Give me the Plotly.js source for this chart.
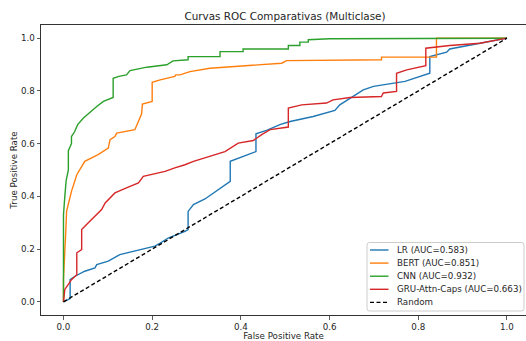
<!DOCTYPE html>
<html>
<head>
<meta charset="utf-8">
<script src="https://cdn.plot.ly/plotly-3.0.1.min.js"></script>
<style>html,body{margin:0;padding:0;background:#fff;}#chart{width:526px;height:341px;}</style>
</head>
<body>
<div id="chart"></div>
<script>
const labels = ["LR (AUC=0.583)", "BERT (AUC=0.851)", "CNN (AUC=0.932)", "GRU-Attn-Caps (AUC=0.663)"];
const colors = ["#1f77b4", "#ff7f0e", "#2ca02c", "#d62728"];

const lrFpr = [0, 0.015, 0.015, 0.026, 0.048, 0.071, 0.075, 0.101, 0.127, 0.161, 0.206, 0.218, 0.236, 0.274, 0.281, 0.281, 0.293, 0.319, 0.345, 0.376, 0.376, 0.394, 0.417, 0.434, 0.434, 0.458, 0.488, 0.511, 0.563, 0.612, 0.623, 0.676, 0.699, 0.77, 0.826, 0.826, 0.864, 0.871, 0.939, 0.977, 1.0];
const lrTpr = [0, 0.012, 0.084, 0.097, 0.116, 0.129, 0.141, 0.154, 0.179, 0.192, 0.211, 0.223, 0.242, 0.267, 0.274, 0.343, 0.369, 0.39, 0.419, 0.457, 0.533, 0.545, 0.558, 0.57, 0.637, 0.65, 0.672, 0.684, 0.703, 0.726, 0.747, 0.804, 0.817, 0.836, 0.867, 0.93, 0.947, 0.959, 0.981, 0.994, 1.0];

const bertFpr = [0, 0, 0.005, 0.007, 0.018, 0.03, 0.048, 0.078, 0.101, 0.105, 0.116, 0.12, 0.161, 0.169, 0.176, 0.178, 0.2, 0.2, 0.218, 0.251, 0.253, 0.263, 0.285, 0.33, 0.36, 0.428, 0.492, 0.503, 0.646, 0.717, 0.717, 0.841, 0.841, 1.0];
const bertTpr = [0, 0.087, 0.261, 0.343, 0.419, 0.482, 0.533, 0.558, 0.583, 0.615, 0.627, 0.64, 0.653, 0.684, 0.712, 0.75, 0.76, 0.833, 0.842, 0.855, 0.861, 0.861, 0.873, 0.886, 0.89, 0.899, 0.905, 0.915, 0.918, 0.918, 0.928, 0.928, 1.0, 1.0];

const cnnFpr = [0, 0, 0.003, 0.006, 0.011, 0.011, 0.018, 0.018, 0.025, 0.032, 0.045, 0.06, 0.075, 0.09, 0.112, 0.112, 0.125, 0.142, 0.15, 0.188, 0.233, 0.247, 0.281, 0.281, 0.353, 0.353, 0.405, 0.405, 0.507, 0.507, 0.533, 0.533, 0.552, 0.552, 0.6, 1.0];
const cnnTpr = [0, 0.33, 0.40, 0.46, 0.50, 0.573, 0.60, 0.627, 0.645, 0.672, 0.697, 0.72, 0.741, 0.76, 0.775, 0.848, 0.855, 0.861, 0.877, 0.89, 0.899, 0.914, 0.918, 0.93, 0.93, 0.949, 0.949, 0.959, 0.959, 0.972, 0.972, 0.985, 0.985, 0.994, 0.998, 1.0];

const gruFpr = [0, 0.003, 0.011, 0.018, 0.030, 0.030, 0.041, 0.041, 0.052, 0.064, 0.075, 0.086, 0.094, 0.116, 0.142, 0.169, 0.18, 0.229, 0.251, 0.274, 0.293, 0.33, 0.364, 0.394, 0.428, 0.447, 0.466, 0.507, 0.507, 0.537, 0.593, 0.608, 0.646, 0.717, 0.721, 0.751, 0.751, 0.774, 0.796, 0.817, 0.817, 0.871, 0.939, 0.977, 1.0];
const gruTpr = [0, 0.047, 0.066, 0.084, 0.103, 0.186, 0.198, 0.274, 0.293, 0.312, 0.331, 0.35, 0.375, 0.413, 0.432, 0.451, 0.476, 0.495, 0.508, 0.52, 0.533, 0.552, 0.57, 0.602, 0.612, 0.634, 0.653, 0.663, 0.735, 0.747, 0.754, 0.766, 0.775, 0.779, 0.792, 0.798, 0.867, 0.88, 0.889, 0.896, 0.962, 0.972, 0.981, 0.994, 1.0];

const randomX = [0, 1];
const randomY = [0, 1];
const randomLabel = "Random";
const tickVals = [0, 0.2, 0.4, 0.6, 0.8, 1.0];
const tickText = ["0.0", "0.2", "0.4", "0.6", "0.8", "1.0"];

const FAM = "DejaVu Sans";
const W = 526, H = 341, ML = 41, MR = 0, MT = 25, MB = 26;
const plotW = W - ML - MR, plotH = H - MT - MB;
const px2x = p => (p - ML) / plotW;
const px2y = p => (H - MB - p) / plotH;

const series = [[lrFpr, lrTpr], [bertFpr, bertTpr], [cnnFpr, cnnTpr], [gruFpr, gruTpr]];
const traces = series.map((s, i) => ({
  x: s[0], y: s[1], type: "scatter", mode: "lines", name: labels[i], showlegend: false,
  line: {color: colors[i], width: 1.4, shape: "linear"}
}));
const dashStyle = "4px,2.5px";
traces.push({x: randomX, y: randomY, type: "scatter", mode: "lines", name: randomLabel, showlegend: false,
  line: {color: "#000000", width: 1.4, dash: dashStyle}});

// custom legend (matplotlib style)
const legLabels = labels.concat([randomLabel]);
const legColors = colors.concat(["#000000"]);
const shapes = [];
const annotations = [];
const boxL = 367, boxR = 524, boxT = 242.5, boxB = 311, rad = 2.5;
const bx = p => px2x(p).toFixed(5), by = p => px2y(p).toFixed(5);
shapes.push({type: "path", xref: "paper", yref: "paper",
  path: `M ${bx(boxL+rad)},${by(boxT)} L ${bx(boxR-rad)},${by(boxT)} Q ${bx(boxR)},${by(boxT)} ${bx(boxR)},${by(boxT+rad)} L ${bx(boxR)},${by(boxB-rad)} Q ${bx(boxR)},${by(boxB)} ${bx(boxR-rad)},${by(boxB)} L ${bx(boxL+rad)},${by(boxB)} Q ${bx(boxL)},${by(boxB)} ${bx(boxL)},${by(boxB-rad)} L ${bx(boxL)},${by(boxT+rad)} Q ${bx(boxL)},${by(boxT)} ${bx(boxL+rad)},${by(boxT)} Z`,
  fillcolor: "rgba(255,255,255,0.8)", line: {color: "#cccccc", width: 1}, layer: "above"});
legLabels.forEach((lab, i) => {
  const yy = 250 + i * 13.1;
  shapes.push({type: "line", xref: "paper", yref: "paper", x0: px2x(370), x1: px2x(388.5), y0: px2y(yy), y1: px2y(yy),
    line: {color: legColors[i], width: 1.4, dash: i === 4 ? dashStyle : "solid"}, layer: "above"});
  annotations.push({xref: "paper", yref: "paper", x: px2x(395), y: px2y(yy), xanchor: "left", yanchor: "middle",
    text: lab, showarrow: false, font: {family: FAM, size: 8.7, color: "#262626"}});
});

const layout = {
  width: W, height: H,
  margin: {l: ML, r: MR, t: MT, b: MB, pad: 0},
  paper_bgcolor: "#ffffff", plot_bgcolor: "#ffffff",
  font: {family: FAM, size: 8.7, color: "#262626"},
  showlegend: false,
  title: {text: "Curvas ROC Comparativas (Multiclase)", font: {family: FAM, size: 10.4, color: "#262626"},
    x: px2x(285), xanchor: "center", xref: "paper", y: 1 - 16/H, yref: "container", yanchor: "middle"},
  xaxis: {range: [-0.0507, 1.0429], tickvals: tickVals, ticktext: tickText, showgrid: false, zeroline: false,
    showline: true, linecolor: "#333333", linewidth: 1, mirror: true, ticks: "outside", ticklen: 3.5, tickwidth: 0.8, tickcolor: "#333333",
    tickfont: {family: FAM, size: 8.7, color: "#262626"},
    title: {text: "False Positive Rate", font: {family: FAM, size: 8.7, color: "#262626"}, standoff: 3}, automargin: false},
  yaxis: {range: [-0.05, 1.05], tickvals: tickVals, ticktext: tickText, showgrid: false, zeroline: false,
    showline: true, linecolor: "#333333", linewidth: 1, mirror: false, ticks: "outside", ticklen: 3.5, tickwidth: 0.8, tickcolor: "#333333",
    tickfont: {family: FAM, size: 8.7, color: "#262626"},
    title: {text: "True Positive Rate", font: {family: FAM, size: 8.7, color: "#262626"}, standoff: 1}, automargin: false},
  shapes: shapes,
  annotations: annotations
};
Plotly.newPlot("chart", traces, layout, {staticPlot: true, displayModeBar: false});
</script>
</body>
</html>
